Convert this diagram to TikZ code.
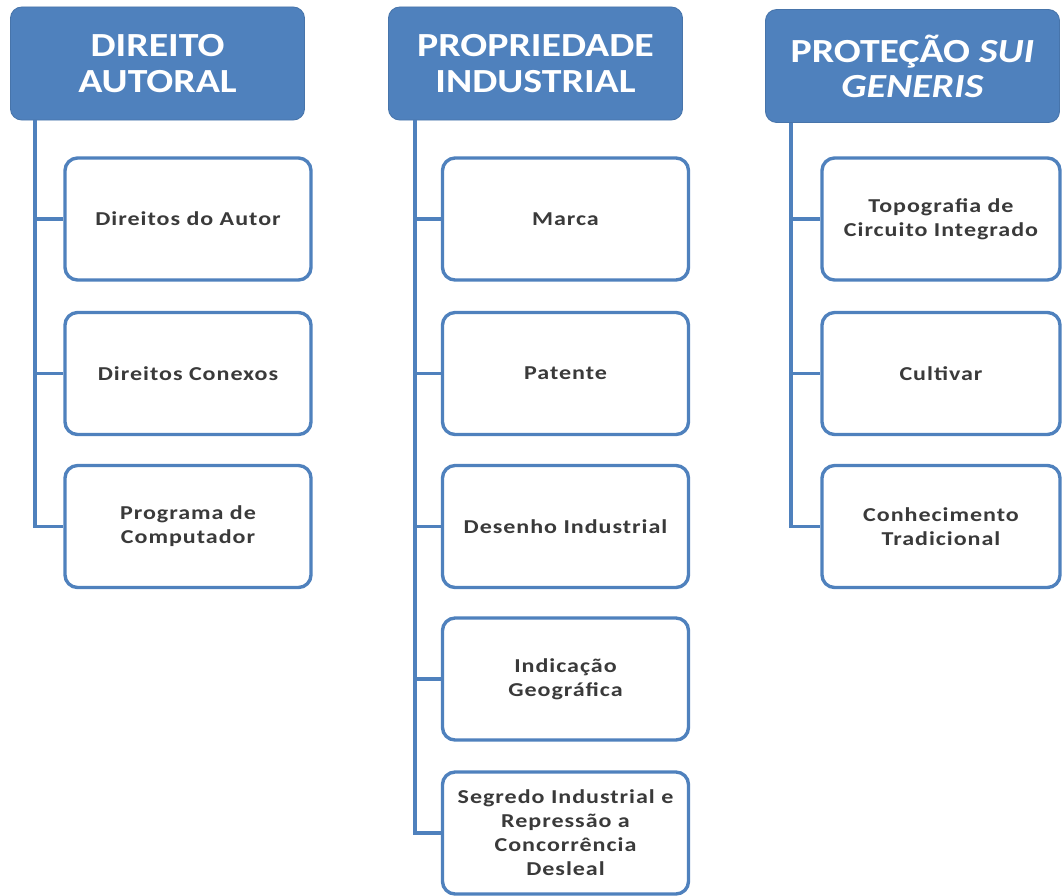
\documentclass[tikz,border=0pt]{standalone}
\usepackage{fontspec}
\setmainfont{Carlito}
\newfontfamily\hdrfont[FakeStretch=1.18]{Carlito}
\newfontfamily\itemfont[FakeStretch=1.22, LetterSpace=5]{Carlito}
\usepackage{tikz}
\usetikzlibrary{positioning}
\definecolor{hdrblue}{HTML}{4F81BD}
\definecolor{txtgray}{HTML}{3A3A3A}

\begin{document}
\begin{tikzpicture}[x=0.025cm, y=-0.025cm,
    header/.style={rectangle, rounded corners=8pt, fill=hdrblue, draw=hdrblue!90!black, line width=0.6pt,
        minimum width=7.35cm, minimum height=2.825cm, text=white, align=center,
        font=\hdrfont\bfseries\fontsize{24}{25}\selectfont},
    item/.style={rectangle, rounded corners=9pt, fill=white, draw=hdrblue, line width=2.4pt,
        minimum width=6.15cm, minimum height=3.05cm, text=txtgray, align=center,
        font=\itemfont\bfseries\fontsize{14}{17}\selectfont},
    link/.style={draw=hdrblue, line width=2.8pt}]
    % Moldura

    \useasboundingbox (0,0) rectangle (1062,895);

    % Cabeçalhos

    \node[header] (autoral) at (157.5, 63.5) {DIREITO\\AUTORAL};
    \node[header] (industrial) at (535.5, 63.5) {PROPRIEDADE\\INDUSTRIAL};
    \node[header] (suigeneris) at (912.5, 66) {PROTEÇÃO \textit{SUI}\\\textit{GENERIS}};

    % Itens

    \node[item] (autor) at (188, 219) {Direitos do Autor};
    \node[item] (conexos) at (188, 373.5) {Direitos Conexos};
    \node[item] (programa) at (188, 526.5) {Programa de\\Computador};

    \node[item] (marca) at (565.5, 219) {Marca};
    \node[item] (patente) at (565.5, 373.5) {Patente};
    \node[item] (desenho) at (565.5, 526.5) {Desenho Industrial};
    \node[item] (indicacao) at (565.5, 679) {Indicação\\Geográfica};
    \node[item] (segredo) at (565.5, 833) {Segredo Industrial e\\Repressão a\\Concorrência\\Desleal};

    \node[item, minimum width=5.95cm] (topografia) at (941, 219) {Topografia de\\Circuito Integrado};
    \node[item, minimum width=5.95cm] (cultivar) at (941, 373.5) {Cultivar};
    \node[item, minimum width=5.95cm] (tradicional) at (941, 526.5) {Conhecimento\\Tradicional};

    % Ligações

    \coordinate (ta) at ([xshift=0.63cm]autoral.south west);
    \coordinate (ti) at ([xshift=0.68cm]industrial.south west);
    \coordinate (ts) at ([xshift=0.65cm]suigeneris.south west);

    \draw[link] (ta) |- (programa.west);
    \draw[link] (ta |- autor.west) -- (autor.west);
    \draw[link] (ta |- conexos.west) -- (conexos.west);

    \draw[link] (ti) |- (segredo.west);
    \draw[link] (ti |- marca.west) -- (marca.west);
    \draw[link] (ti |- patente.west) -- (patente.west);
    \draw[link] (ti |- desenho.west) -- (desenho.west);
    \draw[link] (ti |- indicacao.west) -- (indicacao.west);

    \draw[link] (ts) |- (tradicional.west);
    \draw[link] (ts |- topografia.west) -- (topografia.west);
    \draw[link] (ts |- cultivar.west) -- (cultivar.west);


\end{tikzpicture}
\end{document}
